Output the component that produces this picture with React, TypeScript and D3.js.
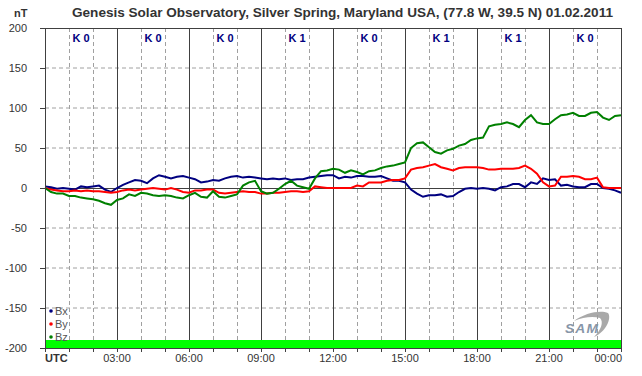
import React from "react";
import * as d3 from "d3";

// Time in hours UTC, sampled every 15 minutes over the day
const hours: number[] = d3.range(0, 97).map((i) => i * 0.25);

const bx: number[] = [
  2, 1, -1, 0, -1, -2, 2, 1, 2, 3, -2, -5, 0, 4, 7, 10, 9, 6, 12, 16, 14, 12, 14, 15, 13,
  11, 7, 8, 10, 9, 12, 14, 15, 13, 14, 13, 12, 11, 12, 11, 12, 10, 11, 11, 13, 14, 15, 16, 16,
  12, 14, 13, 15, 15, 14, 14, 15, 12, 9, 9, 7, -2, -7, -11, -9, -9, -8, -11, -10, -5, -1, 0, -1,
  0, -1, -3, 1, 2, 5, 5, 1, 7, 5, 12, 10, 11, 3, 4, 2, 1, 1, 5, 5, 0, -1, -3, -6,
];
const by: number[] = [
  0, -2, -3, -4, -4, -3, -4, -3, -4, -4, -5, -6, -5, -3, -2, -3, -2, -1, 0, -1, -2, 0, -2, -5, -6,
  -3, -3, -2, -2, -6, -7, -6, -5, -4, -5, -5, -7, -7, -6, -6, -5, -4, -4, -5, -4, 2, 1, 0, 0,
  0, 0, 0, 3, 2, 7, 7, 7, 9, 10, 10, 12, 23, 25, 26, 28, 30, 26, 24, 22, 25, 26, 26, 26,
  25, 23, 23, 24, 24, 24, 25, 28, 24, 18, 7, 2, 3, 14, 14, 15, 14, 11, 11, 13, 1, 0, 0, 0,
];
const bz: number[] = [
  0, -5, -7, -7, -10, -10, -12, -13, -14, -16, -19, -21, -15, -13, -8, -10, -6, -7, -9, -10, -9, -10, -12, -13, -9,
  -6, -11, -12, -4, -11, -12, -10, -8, 3, 7, 9, -4, -7, -6, -1, 5, 9, 3, 1, -1, 12, 21, 22, 24,
  23, 19, 22, 20, 17, 21, 22, 25, 27, 28, 30, 32, 50, 56, 57, 51, 45, 43, 47, 49, 53, 55, 60, 62,
  63, 77, 79, 80, 82, 80, 76, 85, 91, 82, 80, 80, 86, 91, 92, 94, 90, 90, 94, 95, 88, 85, 90, 91,
];

const seriesNames = ["Bx", "By", "Bz"];
const seriesColors = ["#000080", "#ff0000", "#008000"];
const kIndex = ["K 0", "K 0", "K 0", "K 1", "K 0", "K 1", "K 1", "K 0"];
const yTicks = [200, 150, 100, 50, 0, -50, -100, -150, -200];
const xTickLabels = ["UTC", "03:00", "06:00", "09:00", "12:00", "15:00", "18:00", "21:00", "00:00"];
const title = "Genesis Solar Observatory, Silver Spring, Maryland USA, (77.8 W, 39.5 N)  01.02.2011";

const W = 642;
const H = 376;
const L = 45;
const R = 621;
const T = 28;
const B = 348;

export default function App() {
  const x = d3.scaleLinear().domain([0, 24]).range([L, R]);
  const y = d3.scaleLinear().domain([-200, 200]).range([B, T]);
  const series = [bx, by, bz];
  const line = d3
    .line<number>()
    .x((_, i) => x(hours[i]))
    .y((d) => y(d))
    .curve(d3.curveLinear);

  const hourTicks = d3.range(0, 25);
  const font = "'Liberation Sans', Arial, sans-serif";

  return (
    <svg
      width={W}
      height={H}
      style={{ position: "absolute", left: 0, top: 0, background: "#fff" }}
      fontFamily={font}
    >
      <rect x={0} y={0} width={W} height={H} fill="#fff" />
      {/* title */}
      <text x={14} y={17} fontSize={11} fontWeight="bold" fill="#333">nT</text>
      <text x={72} y={17} fontSize={12} fontWeight="bold" fill="#333" textLength={541} lengthAdjust="spacingAndGlyphs">
        {title}
      </text>

      {/* horizontal dashed grid */}
      {yTicks.filter((v) => v !== 0 && v !== 200 && v !== -200).map((v) => (
        <line key={"hg" + v} x1={L} x2={R} y1={y(v)} y2={y(v)} stroke="#a0a0a0" strokeDasharray="4,3" />
      ))}
      {/* vertical dashed hourly grid */}
      {hourTicks.filter((h) => h % 3 !== 0).map((h) => (
        <line key={"vg" + h} x1={x(h) + 0.5} x2={x(h) + 0.5} y1={T} y2={B} stroke="#a0a0a0" strokeDasharray="4,3" />
      ))}
      {/* solid 3-hour lines */}
      {hourTicks.filter((h) => h % 3 === 0 && h !== 0 && h !== 24).map((h) => (
        <line key={"vs" + h} x1={x(h) + 0.5} x2={x(h) + 0.5} y1={T} y2={B} stroke="#404040" />
      ))}
      {/* zero line */}
      <line x1={L} x2={R} y1={y(0) + 0.5} y2={y(0) + 0.5} stroke="#404040" />

      {/* green status band */}
      <rect x={L} y={y(-190)} width={R - L} height={B - y(-190)} fill="#00ff00" />

      {/* K indices */}
      {kIndex.map((k, i) => (
        <text key={"k" + i} x={x(i * 3 + 1.5)} y={42} textAnchor="middle" fontSize={11} fontWeight="bold" fill="#000080">
          {k}
        </text>
      ))}

      {/* series */}
      {series.map((s, i) => (
        <path key={seriesNames[i]} d={line(s) || ""} fill="none" stroke={seriesColors[i]} strokeWidth={2} strokeLinejoin="miter" />
      ))}

      {/* frame */}
      <rect x={L + 0.5} y={T + 0.5} width={R - L} height={B - T} fill="none" stroke="#404040" />

      {/* y axis ticks + labels */}
      {yTicks.map((v) => (
        <g key={"yt" + v}>
          <line x1={L - 5} x2={L} y1={y(v) + 0.5} y2={y(v) + 0.5} stroke="#404040" />
          <text x={27} y={y(v) + 4} textAnchor="end" fontSize={11} fill="#333">{v}</text>
        </g>
      ))}
      {/* x axis ticks */}
      {hourTicks.map((h) => (
        <line key={"xt" + h} x1={x(h) + 0.5} x2={x(h) + 0.5} y1={B} y2={B + 4} stroke="#404040" />
      ))}
      {xTickLabels.map((lab, i) => {
        const px = x(i * 3);
        if (i === 0) {
          return (
            <text key={lab} x={px} y={362} fontSize={11} fontWeight="bold" fill="#333">{lab}</text>
          );
        }
        if (i === xTickLabels.length - 1) {
          return (
            <text key={lab} x={px + 1} y={362} textAnchor="end" fontSize={11} fill="#333">{lab}</text>
          );
        }
        return (
          <text key={lab} x={px} y={362} textAnchor="middle" fontSize={11} fill="#333">{lab}</text>
        );
      })}

      {/* legend */}
      {seriesNames.map((n, i) => (
        <g key={"lg" + n}>
          <circle cx={51} cy={311 + i * 13} r={1.8} fill={seriesColors[i]} />
          <text x={55} y={315 + i * 13} fontSize={11} fill="#555">{n}</text>
        </g>
      ))}

      {/* SAM logo */}
      <g>
        <path d="M574,321 C585,313 600,310 608,313 C612,318 606,332 594,337 C601,330 604,322 600,318 C593,316 583,317 574,321 Z" fill="#9a9a9a" opacity={0.85} />
        <text x={565} y={333} fontSize={12} fontStyle="italic" fontWeight="bold" fill="#8796a8" letterSpacing={1} textLength={34} lengthAdjust="spacingAndGlyphs">SAM</text>
      </g>
    </svg>
  );
}
